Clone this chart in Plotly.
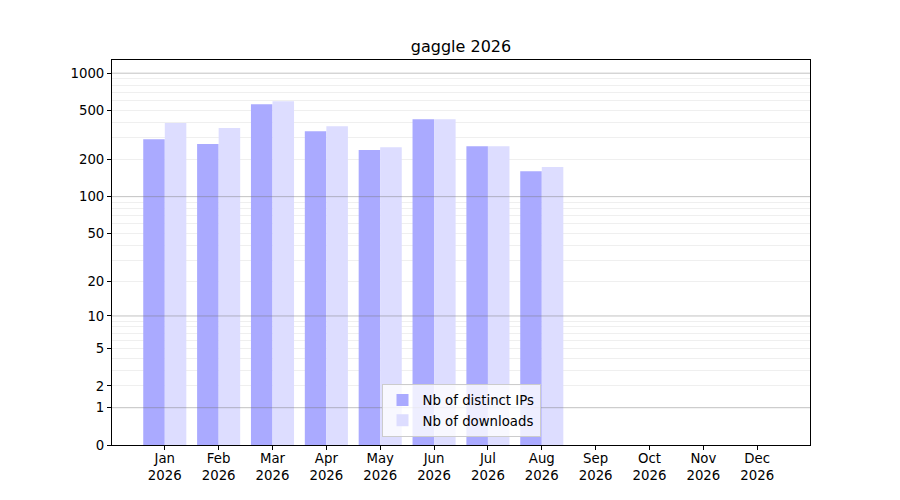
import math
import plotly.graph_objects as go

title = "gaggle 2026"
year = "2026"
months = ["Jan", "Feb", "Mar", "Apr", "May", "Jun", "Jul", "Aug", "Sep", "Oct", "Nov", "Dec"]
distinct_ips = [293, 267, 561, 340, 239, 425, 257, 161]
downloads = [395, 360, 594, 373, 252, 425, 257, 174]
y_ticks = [0, 1, 2, 5, 10, 20, 50, 100, 200, 500, 1000]
y_major_grid = [1, 10, 100, 1000]
y_minor_grid = [2, 3, 4, 5, 6, 7, 8, 9, 20, 30, 40, 50, 60, 70, 80, 90,
                200, 300, 400, 500, 600, 700, 800, 900]


def tr(v):
    return math.log10(1 + v)


labels = [f"{m}<br>{year}" for m in months]
FONT = "DejaVu Sans"

fig = go.Figure()
fig.add_trace(go.Bar(
    name="Nb of distinct IPs",
    x=labels[:len(distinct_ips)],
    y=[tr(v) for v in distinct_ips],
    marker=dict(color="#aaaaff", line=dict(width=0)),
    width=0.4, offset=-0.4,
))
fig.add_trace(go.Bar(
    name="Nb of downloads",
    x=labels[:len(downloads)],
    y=[tr(v) for v in downloads],
    marker=dict(color="#ddddff", line=dict(width=0)),
    width=0.4, offset=0.0,
))

fig.update_layout(
    width=900, height=500,
    margin=dict(l=104, r=98, t=52, b=63),
    paper_bgcolor="white", plot_bgcolor="white",
    font=dict(family=FONT, size=13.3, color="black"),
    title=dict(text=title, x=0.5, xref="paper", xanchor="center",
               y=1 - 38 / 500, yref="container", yanchor="middle",
               font=dict(size=16, family=FONT, color="black")),
    barmode="overlay",
    showlegend=True,
    legend=dict(x=0.5, xanchor="center", y=0.021, yanchor="bottom",
                bgcolor="rgba(255,255,255,0.8)", bordercolor="#cccccc",
                borderwidth=1, font=dict(size=13.3, family=FONT),
                tracegroupgap=0),
)

fig.update_xaxes(
    type="category", categoryorder="array", categoryarray=labels,
    range=[-0.98, 11.98],
    tickvals=labels, ticktext=labels,
    showline=True, linecolor="black", linewidth=1, mirror=True,
    ticks="outside", ticklen=4, tickcolor="black",
    ticklabelstandoff=-3,
    showgrid=False, zeroline=False,
)
fig.update_yaxes(
    range=[0, 3.107],
    tickmode="array",
    tickvals=[tr(t) for t in y_ticks],
    ticktext=[str(t) for t in y_ticks],
    showline=True, linecolor="black", linewidth=1, mirror=True,
    ticks="outside", ticklen=4, tickcolor="black",
    showgrid=False, zeroline=False,
    layer="above traces",
    minor=dict(tickmode="array", tickvals=[tr(t) for t in y_minor_grid],
               showgrid=True, gridcolor="rgba(190,190,190,0.25)", gridwidth=1,
               ticks=""),
)

for t in y_major_grid:
    fig.add_hline(y=tr(t), line=dict(color="rgba(120,120,120,0.45)", width=1),
                  layer="above")

fig.write_html("out.html")
